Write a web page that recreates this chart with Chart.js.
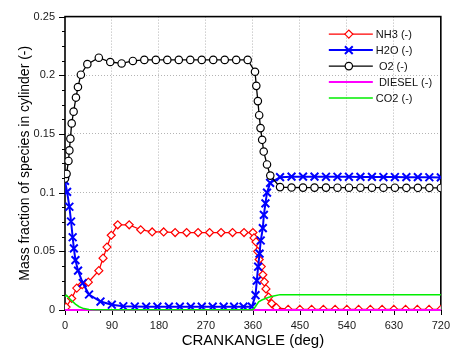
<!DOCTYPE html>
<html>
<head>
<meta charset="utf-8">
<script src="https://cdn.jsdelivr.net/npm/chart.js@4.4.1/dist/chart.umd.min.js"></script>
<style>
  html, body { margin: 0; padding: 0; background: #ffffff; }
  #wrap { width: 459px; height: 356px; }
</style>
</head>
<body>
<div id="wrap"><canvas id="c" width="459" height="356"></canvas></div>
<script>
// ---------------- data ----------------
const xTickLabels = ['0', '90', '180', '270', '360', '450', '540', '630', '720'];
const yTickLabels = ['0', '0.05', '0.1', '0.15', '0.2', '0.25'];
const seriesNames = ['NH3 (-)', 'H2O (-)', ' O2 (-)', ' DIESEL (-)', 'CO2 (-)'];

const nh3X = [2, 12.8, 22.5, 33, 44.7, 64.8, 72.9, 80.4, 88.6, 101, 123, 145, 167, 189, 211, 233, 255, 277, 299, 321, 343, 360,
  362, 366, 369, 372, 376, 379, 382, 385, 390, 396, 405,
  427.5, 450, 472.5, 495, 517.5, 540, 562.5, 585, 607.5, 630, 652.5, 675, 697.5, 720];
const nh3Y = [0.0025, 0.0098, 0.0187, 0.0215, 0.0237, 0.0335, 0.0442, 0.0536, 0.0637, 0.0726, 0.0726, 0.0684, 0.0665, 0.0665, 0.0660, 0.0660, 0.0660, 0.0660, 0.0660, 0.0660, 0.0660, 0.0660,
  0.0615, 0.0580, 0.0500, 0.0430, 0.0370, 0.0300, 0.0240, 0.0180, 0.0110, 0.0055, 0.0020,
  0.0005, 0.0005, 0.0005, 0.0005, 0.0005, 0.0005, 0.0005, 0.0005, 0.0005, 0.0005, 0.0005, 0.0005, 0.0005, 0.0005];

const h2oX = [0, 4, 8.4, 11.6, 14.7, 17, 20, 25, 34, 46, 68, 89.7, 111.7, 133.7, 155.5, 177, 199, 220, 241, 262, 283, 304, 324, 342, 358,
  365, 367.5, 370, 372.7, 375, 379, 381, 384, 387, 393, 412, 434, 456, 478, 500, 522, 544, 566, 588, 610, 632, 654, 676, 698, 720];
const h2oY = [0.110, 0.1006, 0.0880, 0.0754, 0.0620, 0.0525, 0.0425, 0.0335, 0.0230, 0.0132, 0.0072, 0.0045, 0.0032, 0.0030, 0.0028, 0.0028, 0.0028, 0.0028, 0.0028, 0.0028, 0.0028, 0.0028, 0.0028, 0.0028, 0.0028,
  0.0126, 0.0250, 0.0369, 0.0480, 0.0592, 0.0698, 0.0810, 0.0908, 0.1000, 0.1083, 0.1132, 0.1136, 0.1136, 0.1136, 0.1135, 0.1135, 0.1135, 0.1134, 0.1134, 0.1133, 0.1133, 0.1132, 0.1132, 0.1131, 0.1130];

const o2X = [0, 3, 6.6, 8.4, 10.3, 12.8, 16.5, 21, 24.8, 30.4, 42.8, 64.8, 86.7, 108.5, 130, 152, 174, 196, 218, 240, 262, 284, 306, 328, 350,
  364, 366.5, 369.5, 372, 374.6, 377.7, 380.7, 387, 393.3, 412, 434, 456, 478, 500, 522, 544, 566, 588, 610, 632, 654, 676, 698, 720];
const o2Y = [0.112, 0.116, 0.127, 0.136, 0.146, 0.159, 0.169, 0.181, 0.190, 0.2005, 0.2095, 0.2150, 0.2113, 0.2101, 0.2122, 0.2131, 0.2131, 0.2131, 0.2131, 0.2131, 0.2131, 0.2131, 0.2131, 0.2131, 0.2131,
  0.203, 0.191, 0.178, 0.166, 0.155, 0.145, 0.135, 0.124, 0.1145, 0.1047, 0.1044, 0.1043, 0.1043, 0.1043, 0.1042, 0.1042, 0.1042, 0.1042, 0.1042, 0.1042, 0.1041, 0.1041, 0.1041, 0.1040];

const dieselX = [0, 720];
const dieselY = [0, 0];

const co2X = [0, 3, 11.6, 20, 27, 36, 46, 60, 360, 365, 371, 377, 384, 392, 400, 412, 720];
const co2Y = [0.0115, 0.0125, 0.0084, 0.0050, 0.0028, 0.0012, 0.0005, 0.0002, 0.0002, 0.0030, 0.0070, 0.0085, 0.0098, 0.0110, 0.0120, 0.0131, 0.0131];

// ---------------- helpers ----------------
const toPoints = (xs, ys) => xs.map((x, i) => ({ x: x, y: ys[i] }));
const FONT = 'Arial, "Liberation Sans", Helvetica, sans-serif';
const isMajorX = v => Math.abs(v / 90 - Math.round(v / 90)) < 1e-6;
const isMajorY = v => Math.abs(v / 0.05 - Math.round(v / 0.05)) < 1e-6;

function drawMarker(ctx, style, x, y, r, color, bw) {
  ctx.save();
  ctx.lineWidth = bw;
  ctx.strokeStyle = color;
  ctx.fillStyle = '#ffffff';
  ctx.beginPath();
  if (style === 'circle') {
    ctx.arc(x, y, r, 0, Math.PI * 2);
    ctx.fill(); ctx.stroke();
  } else if (style === 'rectRot') {
    ctx.moveTo(x - r, y); ctx.lineTo(x, y - r); ctx.lineTo(x + r, y); ctx.lineTo(x, y + r); ctx.closePath();
    ctx.fill(); ctx.stroke();
  } else if (style === 'crossRot') {
    const d = r * Math.SQRT1_2;
    ctx.moveTo(x - d, y - d); ctx.lineTo(x + d, y + d);
    ctx.moveTo(x - d, y + d); ctx.lineTo(x + d, y - d);
    ctx.stroke();
  }
  ctx.restore();
}

// frame + tick marks (drawn from the library's scales)
const framePlugin = {
  id: 'frame',
  beforeDatasetsDraw(chart) {
    const ctx = chart.ctx;
    const { left, right, top, bottom } = chart.chartArea;
    const xs = chart.scales.x, ys = chart.scales.y;
    ctx.save();
    ctx.strokeStyle = '#000';
    ctx.lineWidth = 1;
    ctx.beginPath();
    xs.ticks.forEach(t => {
      const p = Math.round(xs.getPixelForValue(t.value)) + 0.5;
      const len = isMajorX(t.value) ? 5 : 3;
      ctx.moveTo(p, bottom); ctx.lineTo(p, bottom + len);
    });
    ys.ticks.forEach(t => {
      const p = Math.round(ys.getPixelForValue(t.value)) + 0.5;
      const len = isMajorY(t.value) ? 6 : 3;
      ctx.moveTo(left, p); ctx.lineTo(left - len, p);
    });
    ctx.stroke();
    ctx.lineWidth = 1.6;
    ctx.strokeRect(left, top, right - left, bottom - top);
    ctx.restore();
  }
};

// legend with line + marker samples
const legendPlugin = {
  id: 'lineLegend',
  afterDatasetsDraw(chart) {
    const ctx = chart.ctx;
    const { right, top } = chart.chartArea;
    const x0 = right - 112, x1 = x0 + 44, mx = x0 + 20, tx = x1 + 3;
    const y0 = top + 17.5, rowH = 16;
    ctx.save();
    chart.data.datasets.forEach((ds, i) => {
      const y = y0 + i * rowH;
      ctx.strokeStyle = ds.borderColor;
      ctx.lineWidth = ds.borderWidth;
      ctx.beginPath();
      ctx.moveTo(x0, y); ctx.lineTo(x1, y);
      ctx.stroke();
      if (ds.pointRadius > 0) {
        drawMarker(ctx, ds.pointStyle, mx, y, ds.pointRadius, ds.pointBorderColor, ds.pointBorderWidth);
      }
      ctx.fillStyle = '#111';
      ctx.font = '11px ' + FONT;
      ctx.textAlign = 'left';
      ctx.textBaseline = 'middle';
      ctx.fillText(ds.label, tx, y + 0.5);
    });
    ctx.restore();
  }
};

const ctx = document.getElementById('c').getContext('2d');
new Chart(ctx, {
  type: 'line',
  data: {
    datasets: [
      { label: seriesNames[0], data: toPoints(nh3X, nh3Y), borderColor: '#ff0000', borderWidth: 1.3,
        pointStyle: 'rectRot', pointRadius: 4, pointBorderColor: '#ff0000', pointBackgroundColor: '#ffffff',
        pointBorderWidth: 1.2, order: 4, clip: 0 },
      { label: seriesNames[1], data: toPoints(h2oX, h2oY), borderColor: '#0000ff', borderWidth: 2,
        pointStyle: 'crossRot', pointRadius: 5.5, pointBorderColor: '#0000ff', pointBackgroundColor: '#0000ff',
        pointBorderWidth: 2, order: 3, clip: 0 },
      { label: seriesNames[2], data: toPoints(o2X, o2Y), borderColor: '#000000', borderWidth: 1.3,
        pointStyle: 'circle', pointRadius: 3.7, pointBorderColor: '#000000', pointBackgroundColor: '#ffffff',
        pointBorderWidth: 1.2, order: 2, clip: 0 },
      { label: seriesNames[3], data: toPoints(dieselX, dieselY), borderColor: '#ff00ff', borderWidth: 2,
        pointRadius: 0, pointBorderColor: '#ff00ff', pointBorderWidth: 0, order: 1, clip: false },
      { label: seriesNames[4], data: toPoints(co2X, co2Y), borderColor: '#00ee00', borderWidth: 1.5,
        pointRadius: 0, pointBorderColor: '#00ee00', pointBorderWidth: 0, order: 0, clip: false }
    ]
  },
  options: {
    responsive: false,
    animation: false,
    devicePixelRatio: 1,
    layout: { padding: { left: 0, top: 12, right: 10, bottom: 0 } },
    elements: { line: { tension: 0, fill: false } },
    plugins: { legend: { display: false }, tooltip: { enabled: false } },
    scales: {
      x: {
        type: 'linear',
        min: 0, max: 720,
        afterFit: s => { s.height = 46; },
        ticks: {
          stepSize: 22.5,
          autoSkip: false,
          maxRotation: 0,
          padding: 9,
          color: '#1a1a1a',
          font: { family: FONT, size: 11 },
          callback: v => isMajorX(v) ? xTickLabels[Math.round(v / 90)] : ''
        },
        grid: {
          drawTicks: false,
          lineWidth: 1,
          color: c => (c.tick && isMajorX(c.tick.value) && c.tick.value > 0 && c.tick.value < 720) ? '#b4b4b4' : 'rgba(0,0,0,0)'
        },
        border: { display: false, dash: [1, 2] },
        title: {
          display: true,
          text: 'CRANKANGLE (deg)',
          color: '#000',
          font: { family: FONT, size: 15 },
          padding: { top: 0, bottom: 6 }
        }
      },
      y: {
        type: 'linear',
        min: 0, max: 0.25,
        afterFit: s => { s.width = 65; },
        ticks: {
          stepSize: 0.0125,
          autoSkip: false,
          padding: 10,
          color: '#1a1a1a',
          font: { family: FONT, size: 11 },
          callback: v => isMajorY(v) ? yTickLabels[Math.round(v / 0.05)] : ''
        },
        grid: {
          drawTicks: false,
          lineWidth: 1,
          color: c => (c.tick && isMajorY(c.tick.value) && c.tick.value > 0.001 && c.tick.value < 0.249) ? '#b4b4b4' : 'rgba(0,0,0,0)'
        },
        border: { display: false, dash: [1, 2] },
        title: {
          display: true,
          text: 'Mass fraction of species in cylinder (-)',
          color: '#000',
          font: { family: FONT, size: 14 },
          padding: { top: 17, bottom: 0 }
        }
      }
    }
  },
  plugins: [framePlugin, legendPlugin]
});
</script>
</body>
</html>
